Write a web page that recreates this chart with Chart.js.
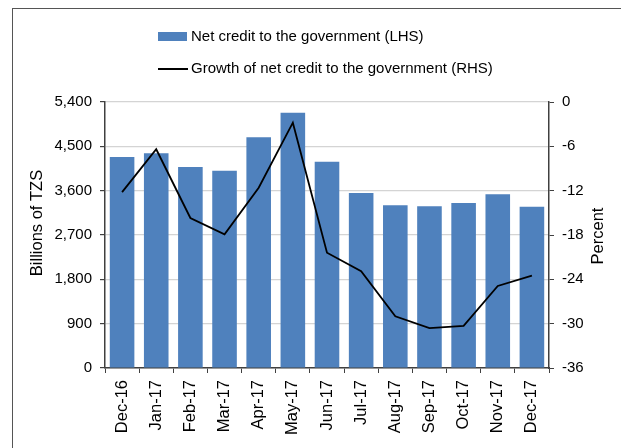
<!DOCTYPE html>
<html>
<head>
<meta charset="utf-8">
<script src="https://cdn.jsdelivr.net/npm/chart.js@4"></script>
<style>
  html, body { margin: 0; padding: 0; background: #fff; }
  #wrap { position: relative; width: 621px; height: 448px; overflow: hidden; }
  #frame { position: absolute; left: 12px; top: 8px; right: -2px; bottom: -2px;
           border-top: 1.5px solid #555; border-left: 1.5px solid #555; }
  #chart { position: absolute; left: 0; top: 0; }
</style>
</head>
<body>
<div id="wrap">
  <div id="frame"></div>
  <canvas id="chart" width="621" height="448"></canvas>
</div>
<script>
const months = ['Dec-16', 'Jan-17', 'Feb-17', 'Mar-17', 'Apr-17', 'May-17', 'Jun-17',
                'Jul-17', 'Aug-17', 'Sep-17', 'Oct-17', 'Nov-17', 'Dec-17'];
// billions of TZS
const netCredit = [4283, 4358, 4080, 4006, 4683, 5183, 4189, 3553, 3302, 3282, 3350, 3526, 3275];
// annual growth, percent
const creditGrowth = [-12.2, -6.4, -15.7, -17.9, -11.6, -2.8, -20.4, -22.9, -29.0, -30.6, -30.3, -24.9, -23.5];

const BLUE = '#4f81bd';
const FAMILY = 'Liberation Sans, Arial, sans-serif';
const FONT = { family: FAMILY, size: 15 };
const XFONT = { family: FAMILY, size: 16.5 };
const legendItems = [
  { label: 'Net credit to the government (LHS)', kind: 'box' },
  { label: 'Growth of net credit to the government (RHS)', kind: 'line' }
];
const axisTitles = [
  { text: 'Billions of TZS', x: 37.5, y: 223 },
  { text: 'Percent', x: 598.5, y: 236 }
];

// two-row legend above the plot, plus both axis titles reading upwards
const decorations = {
  id: 'decorations',
  afterDraw(chart) {
    const ctx = chart.ctx;
    ctx.save();
    ctx.font = FONT.size + 'px ' + FAMILY;
    ctx.textBaseline = 'middle';
    legendItems.forEach((it, i) => {
      const y = 37 + i * 32;
      if (it.kind === 'box') {
        ctx.fillStyle = BLUE;
        ctx.fillRect(158, y - 5, 29, 9);
      } else {
        ctx.strokeStyle = '#000';
        ctx.lineWidth = 2;
        ctx.beginPath();
        ctx.moveTo(158, y);
        ctx.lineTo(188, y);
        ctx.stroke();
      }
      ctx.fillStyle = '#000';
      ctx.fillText(it.label, 191, y);
    });

    ctx.font = '16.5px ' + FAMILY;
    ctx.textAlign = 'center';
    axisTitles.forEach(t => {
      ctx.save();
      ctx.translate(t.x, t.y);
      ctx.rotate(-Math.PI / 2);
      ctx.fillText(t.text, 0, 0);
      ctx.restore();
    });
    ctx.restore();
  }
};

new Chart(document.getElementById('chart'), {
  data: {
    labels: months,
    datasets: [
      {
        type: 'line',
        data: creditGrowth,
        yAxisID: 'yr',
        borderColor: '#000',
        borderWidth: 1.8,
        pointRadius: 0,
        tension: 0,
        order: 0
      },
      {
        type: 'bar',
        data: netCredit,
        yAxisID: 'y',
        backgroundColor: BLUE,
        barPercentage: 0.72,
        categoryPercentage: 1,
        order: 1
      }
    ]
  },
  options: {
    responsive: false,
    animation: false,
    layout: { padding: { left: 14, top: 102, right: 0, bottom: 0 } },
    plugins: { legend: { display: false }, tooltip: { enabled: false } },
    scales: {
      x: {
        afterFit(s) { s.height = 80; },
        grid: { drawOnChartArea: false, tickLength: 5, tickColor: '#404040', offset: true },
        border: { color: '#404040', width: 1.5 },
        ticks: { color: '#000', font: XFONT, minRotation: 90, maxRotation: 90, padding: 7 }
      },
      y: {
        position: 'left',
        min: 0, max: 5400,
        afterFit(s) { s.width = 91; },
        grid: { color: '#d4d4d4', lineWidth: 1.2, tickLength: 5, tickColor: '#404040' },
        border: { color: '#404040', width: 1.5 },
        ticks: { stepSize: 900, color: '#000', font: FONT, padding: 8 }
      },
      yr: {
        position: 'right',
        min: -36, max: 0,
        afterFit(s) { s.width = 72; },
        grid: { drawOnChartArea: false, tickLength: 5, tickColor: '#404040' },
        border: { color: '#404040', width: 1.5 },
        ticks: { stepSize: 6, color: '#000', font: FONT, padding: 8 }
      }
    }
  },
  plugins: [decorations]
});
</script>
</body>
</html>
